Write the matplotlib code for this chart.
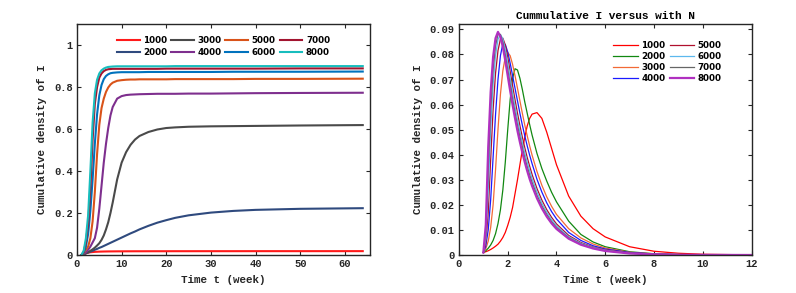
import matplotlib
matplotlib.use("Agg")
import matplotlib.pyplot as plt
from matplotlib.ticker import FuncFormatter

# ---- left panel: cumulative curves ----
t_left = [1, 1.5, 2, 2.5, 3, 3.5, 4, 4.5, 5, 5.5, 6, 6.5, 7, 7.5, 8, 9, 10, 11, 12, 13,
          14, 16, 18, 20, 22, 25, 30, 35, 40, 50, 64]
cum_1000 = [0, .004, .008, .011, .013, .014, .015, .0155, .016, .0163, .0166, .0168, .017, .0171,
            .0172, .0174, .0175, .0176, .0177, .0178, .0178, .0179, .018, .018, .0181, .0181,
            .0182, .0182, .0183, .0183, .0184]
cum_2000 = [0, 0.004, 0.008, 0.012, 0.016, 0.02, 0.025, 0.029, 0.034, 0.038, 0.043, 0.048, 0.053,
            0.058, 0.063, 0.073, 0.083, 0.093, 0.103, 0.112, 0.122, 0.139, 0.154, 0.166, 0.177,
            0.189, 0.202, 0.210, 0.215, 0.220, 0.223]
cum_3000 = [0, 0.004, 0.008, 0.013, 0.02, 0.027, 0.035, 0.045, 0.056, 0.072, 0.093, 0.122, 0.156,
            0.2, 0.25, 0.36, 0.44, 0.49, 0.525, 0.55, 0.567, 0.586, 0.598, 0.605, 0.608,
            0.611, 0.613, 0.614, 0.615, 0.617, 0.619]
cum_4000 = [0, 0.005, 0.012, 0.025, 0.04, 0.06, 0.08, 0.13, 0.22, 0.33, 0.44, 0.53, 0.605, 0.665,
            0.705, 0.745, 0.757, 0.762, 0.764, 0.765, 0.766, 0.767, 0.768, 0.768, 0.768, 0.769,
            0.769, 0.770, 0.771, 0.772, 0.773]
cum_5000 = [0, 0.008, 0.025, 0.04, 0.08, 0.16, 0.30, 0.48, 0.62, 0.70, 0.745, 0.777, 0.798, 0.812,
            0.821, 0.830, 0.833, 0.835, 0.836, 0.836, 0.837, 0.837, 0.837, 0.837, 0.838, 0.838,
            0.838, 0.838, 0.839, 0.839, 0.840]
cum_6000 = [0, 0.01, 0.04, 0.10, 0.21, 0.36, 0.53, 0.67, 0.76, 0.81, 0.838, 0.853, 0.861, 0.866,
            0.868, 0.870, 0.871, 0.871, 0.871, 0.871, 0.871, 0.872, 0.872, 0.872, 0.872, 0.872,
            0.872, 0.873, 0.873, 0.873, 0.874]
cum_7000 = [0, 0.015, 0.06, 0.15, 0.32, 0.55, 0.72, 0.80, 0.845, 0.865, 0.876, 0.882, 0.885,
            0.886, 0.887, 0.887, 0.887, 0.887, 0.887, 0.887, 0.887, 0.887, 0.887, 0.888, 0.888,
            0.888, 0.888, 0.888, 0.888, 0.889, 0.889]
cum_8000 = [0, 0.02, 0.08, 0.19, 0.40, 0.63, 0.77, 0.835, 0.865, 0.88, 0.888, 0.893, 0.896, 0.897,
            0.898, 0.899, 0.899, 0.899, 0.899, 0.899, 0.899, 0.899, 0.899, 0.899, 0.9, 0.9, 0.9,
            0.9, 0.9, 0.9, 0.9]

# ---- right panel: density curves ----
t_right = [1.0, 1.1, 1.2, 1.3, 1.4, 1.5, 1.6, 1.7, 1.8, 1.9, 2.0, 2.1, 2.2, 2.3, 2.4, 2.5, 2.6,
           2.7, 2.8, 2.9, 3.0, 3.2, 3.4, 3.6, 3.8, 4.0, 4.5, 5.0, 5.5, 6.0, 7.0, 8.0, 9.0, 10.0, 12.0]
den_1000 = [0.001, 0.0013, 0.0017, 0.0022, 0.0028, 0.0035, 0.0043, 0.0055, 0.007, 0.009,
            0.0118, 0.015, 0.019, 0.0245, 0.030, 0.036, 0.042, 0.047, 0.0515, 0.0545,
            0.0562, 0.0568, 0.0545, 0.049, 0.0425, 0.036, 0.0235, 0.0155, 0.0105, 0.0072,
            0.0033, 0.0015, 0.0007, 0.0003, 0.00005]
den_2000 = [0.001, 0.0017, 0.0027, 0.004, 0.0058, 0.0085, 0.0125, 0.018, 0.026, 0.037,
            0.050, 0.062, 0.0705, 0.0743, 0.0738, 0.0705, 0.066, 0.061, 0.0565, 0.052,
            0.0478, 0.0405, 0.0345, 0.0295, 0.025, 0.0212, 0.0135, 0.0082, 0.0052, 0.0033,
            0.0013, 0.0005, 0.0002, 0.0001, 0.00002]
den_3000 = [0.001, 0.0025, 0.0055, 0.011, 0.020, 0.034, 0.050, 0.064, 0.0735, 0.079,
            0.0808, 0.0795, 0.076, 0.0715, 0.0665, 0.0615, 0.0565, 0.0518, 0.0475, 0.0435,
            0.0398, 0.0333, 0.0278, 0.0232, 0.0194, 0.0162, 0.0105, 0.0068, 0.0044, 0.0028,
            0.0011, 0.00045, 0.00018, 0.00007, 0.00001]
den_4000 = [0.001, 0.0035, 0.010, 0.022, 0.039, 0.056, 0.070, 0.0795, 0.0843, 0.084,
            0.081, 0.0765, 0.0715, 0.0665, 0.0615, 0.0565, 0.0518, 0.0475, 0.0435, 0.0398,
            0.0364, 0.0302, 0.0251, 0.0208, 0.0173, 0.0144, 0.009, 0.0058, 0.0037, 0.0024,
            0.001, 0.0004, 0.00016, 0.00006, 0.00001]
den_5000 = [0.001, 0.0048, 0.017, 0.038, 0.058, 0.0725, 0.0815, 0.0862, 0.0865, 0.0838,
            0.079, 0.0733, 0.0675, 0.0619, 0.0566, 0.0516, 0.047, 0.0428, 0.0389, 0.0354,
            0.0321, 0.0265, 0.0219, 0.0181, 0.015, 0.0124, 0.0078, 0.005, 0.0032, 0.0021,
            0.0008, 0.0003, 0.00012, 0.00005, 0.0]
den_6000 = [0.001, 0.0065, 0.026, 0.05, 0.068, 0.0795, 0.086, 0.088, 0.0862, 0.082,
            0.0765, 0.0705, 0.0646, 0.0591, 0.054, 0.0492, 0.0448, 0.0407, 0.037, 0.0336,
            0.0304, 0.0251, 0.0207, 0.0171, 0.0141, 0.0116, 0.0073, 0.0047, 0.003, 0.0019,
            0.0007, 0.0003, 0.00011, 0.00004, 0.0]
den_7000 = [0.001, 0.009, 0.034, 0.058, 0.074, 0.0835, 0.088, 0.088, 0.0848, 0.0798,
            0.074, 0.068, 0.0622, 0.0568, 0.0518, 0.0471, 0.0428, 0.0388, 0.0352, 0.0319,
            0.0289, 0.0238, 0.0196, 0.0162, 0.0133, 0.011, 0.0069, 0.0044, 0.0028, 0.0017,
            0.0007, 0.00027, 0.0001, 0.00004, 0.0]
den_8000 = [0.001, 0.012, 0.043, 0.065, 0.079, 0.0865, 0.089, 0.087, 0.083, 0.0775,
            0.0715, 0.0655, 0.0598, 0.0545, 0.0495, 0.045, 0.0408, 0.037, 0.0335, 0.0303,
            0.0275, 0.0226, 0.0186, 0.0153, 0.0126, 0.0104, 0.0065, 0.0041, 0.0026, 0.0016,
            0.0006, 0.00025, 0.0001, 0.00004, 0.0]

labels = ["1000", "2000", "3000", "4000", "5000", "6000", "7000", "8000"]
cum_series = [cum_1000, cum_2000, cum_3000, cum_4000, cum_5000, cum_6000, cum_7000, cum_8000]
den_series = [den_1000, den_2000, den_3000, den_4000, den_5000, den_6000, den_7000, den_8000]

left_colors = ["#ff1a1a", "#2f4a7e", "#4a4a4a", "#7e2f8e", "#d95319", "#0072bd", "#a2142f", "#17bdbd"]
right_colors = ["#ff0000", "#118811", "#f26a36", "#1a1aff", "#b0102e", "#5cb8ee", "#666666", "#b030c0"]

mono = "Liberation Mono"
ink = "#262626"

fig = plt.figure(figsize=(7.96, 2.93), dpi=100)
ax1 = fig.add_axes([0.0967, 0.1297, 0.368, 0.788])
ax2 = fig.add_axes([0.5766, 0.1297, 0.3675, 0.788])

for vals, lab, col in zip(cum_series, labels, left_colors):
    ax1.plot(t_left, vals, color=col, lw=1.5, label=lab)
for i, (vals, lab, col) in enumerate(zip(den_series, labels, right_colors)):
    ax2.plot(t_right, vals, color=col, lw=1.6 if i == 7 else 0.9, label=lab)

ax1.set_xlim(0, 65.6)
ax1.set_ylim(0, 1.1)
ax1.set_xticks([0, 10, 20, 30, 40, 50, 60])
ax1.set_yticks([0, 0.2, 0.4, 0.6, 0.8, 1.0])
ax2.set_xlim(0, 12)
ax2.set_ylim(0, 0.0921)
ax2.set_xticks([0, 2, 4, 6, 8, 10, 12])
ax2.set_yticks([0, 0.01, 0.02, 0.03, 0.04, 0.05, 0.06, 0.07, 0.08, 0.09])

fmt = FuncFormatter(lambda v, p: "%g" % round(v, 4))
for ax in (ax1, ax2):
    ax.xaxis.set_major_formatter(fmt)
    ax.yaxis.set_major_formatter(fmt)
    ax.tick_params(direction="in", top=True, right=True, length=3, width=0.8, colors=ink,
                   labelsize=7.5, pad=3)
    for lbl in ax.get_xticklabels() + ax.get_yticklabels():
        lbl.set_fontfamily(mono)
        lbl.set_fontweight("bold")
    for s in ax.spines.values():
        s.set_color(ink)
        s.set_linewidth(1.0)
    ax.set_xlabel("Time t (week)", fontfamily=mono, fontweight="bold", fontsize=7.8,
                  color=ink, labelpad=4)
    ax.set_ylabel("Cumulative density of I", fontfamily=mono, fontweight="bold",
                  fontsize=7.8, color=ink, labelpad=5)

ax2.set_title("Cummulative I versus with N", fontfamily=mono, fontweight="bold",
              fontsize=8, color="black", pad=4)

leg_font = {"family": "DejaVu Sans", "weight": "bold", "size": 6.3}
ax1.legend(loc="upper center", bbox_to_anchor=(0.5, 0.955), ncol=4, frameon=False,
           prop=leg_font, handlelength=2.6, handletextpad=0.4, columnspacing=0.45,
           labelspacing=0.3, borderaxespad=0, borderpad=0.2)
ax2.legend(loc="upper center", bbox_to_anchor=(0.713, 0.935), ncol=2, frameon=False,
           prop=leg_font, handlelength=2.8, handletextpad=0.4, columnspacing=0.45,
           labelspacing=0.25, borderaxespad=0, borderpad=0.2)

fig.savefig("out.png", dpi=100, facecolor="white")
